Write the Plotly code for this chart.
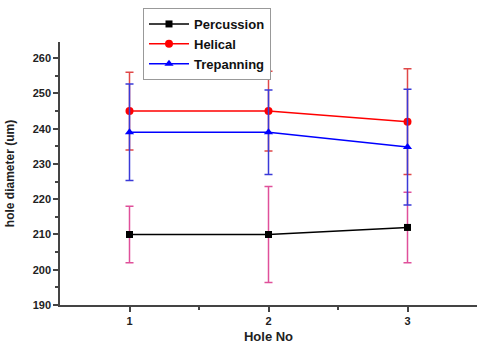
import plotly.graph_objects as go

hole_no = [1, 2, 3]
percussion = [210, 210, 212]
percussion_err = [8, 13.6, 10]
helical = [245, 245, 242]
helical_err = [11, 11.3, 15]
trepanning = [239, 239, 234.8]
trepanning_err = [13.7, 12, 16.4]

fig = go.Figure()

series = [
    ("Percussion", percussion, percussion_err, "#000000", "#e0509a", "square", 7),
    ("Helical", helical, helical_err, "#ff0000", "#e04848", "circle", 8),
    ("Trepanning", trepanning, trepanning_err, "#0000ff", "#3a3ad8", "triangle-up", 8),
]
for name, y, err, col, ecol, sym, size in series:
    fig.add_trace(go.Scatter(
        x=hole_no, y=y, name=name, mode="lines+markers",
        line=dict(color=col, width=1.5),
        marker=dict(symbol=sym, size=size, color=col),
        error_y=dict(type="data", array=err, visible=True, color=ecol,
                     thickness=1.5, width=4),
    ))

fig.update_layout(
    width=477, height=344,
    margin=dict(l=60, r=0, t=42, b=39),
    paper_bgcolor="white", plot_bgcolor="white",
    font=dict(family="Liberation Sans, Arial, sans-serif", color="#111"),
    showlegend=True,
    legend=dict(x=(143 - 60) / 417, y=(305 - 8) / 263, xref="paper", yref="paper",
                xanchor="left", yanchor="top",
                bordercolor="#999", borderwidth=1, bgcolor="white",
                font=dict(size=13, family="Liberation Sans, Arial, sans-serif", color="#111", weight="bold"),
                itemwidth=40, tracegroupgap=0),
)
fig.update_xaxes(
    range=[0.5, 3.5], tickvals=hole_no, ticktext=["1", "2", "3"],
    showline=True, linecolor="#444", linewidth=1.5, mirror=False,
    ticks="outside", ticklen=5, tickwidth=1.5, tickcolor="#444",
    minor=dict(tickvals=[1.5, 2.5], ticks="outside", ticklen=3, tickwidth=1.5, tickcolor="#444"),
    showgrid=False, zeroline=False, automargin=False,
    tickfont=dict(size=11, weight="bold", family="Liberation Sans, Arial, sans-serif", color="#222"),
    title=dict(text="Hole No", font=dict(size=13, weight="bold", color="#222")),
)
fig.update_yaxes(
    range=[190, 264.6], tickvals=[190, 200, 210, 220, 230, 240, 250, 260],
    showline=True, linecolor="#444", linewidth=1.5,
    ticks="outside", ticklen=5, tickwidth=1.5, tickcolor="#444",
    minor=dict(tickvals=[195, 205, 215, 225, 235, 245, 255], ticks="outside", ticklen=3, tickwidth=1.5, tickcolor="#444"),
    showgrid=False, zeroline=False,
    tickfont=dict(size=11, weight="bold", family="Liberation Sans, Arial, sans-serif", color="#222"),
    title=dict(text="hole diameter (um)", font=dict(size=12, weight="bold", color="#222")),
)

fig.write_html("out.html")
